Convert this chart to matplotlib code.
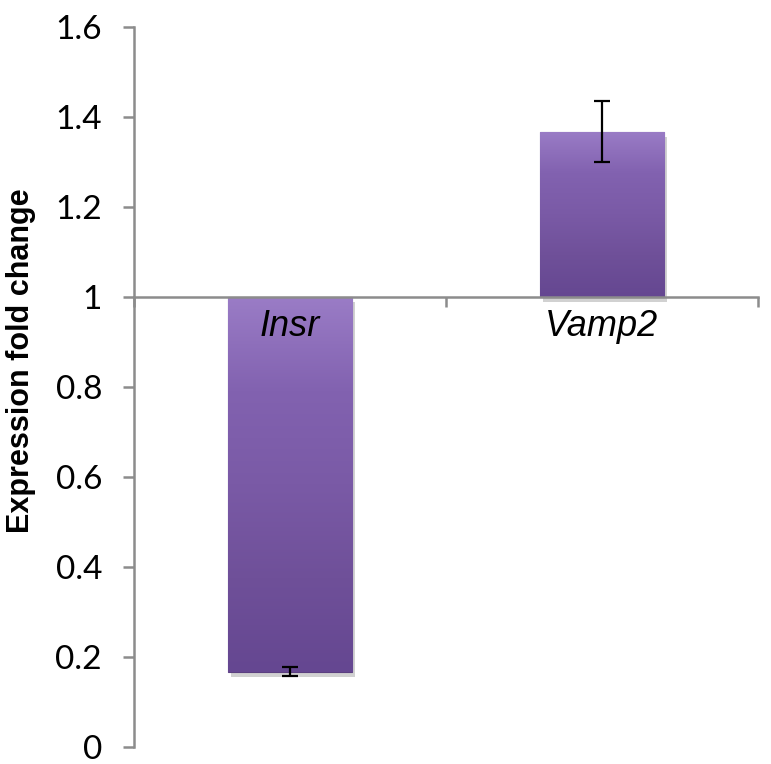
import matplotlib.pyplot as plt
import numpy as np
from matplotlib.colors import LinearSegmentedColormap

# Data
genes = ['Insr', 'Vamp2']
fold_change = [0.167, 1.367]
errors = [0.010, 0.068]
baseline = 1.0

fig = plt.figure(figsize=(7.71, 7.64), dpi=100)
ax = fig.add_axes([0.1738, 0.0225, 0.8092, 0.9422])
ax.set_axisbelow(False)

x = np.arange(len(genes))
width = 0.4
heights = [v - baseline for v in fold_change]

bars = ax.bar(x, heights, width, bottom=baseline, color='#7a5aa5', zorder=2)

# gradient fill + soft shadow to mimic the bevelled look
cmap = LinearSegmentedColormap.from_list('purp', ['#9a7cc6', '#8262b0', '#7a5aa6', '#6f5099', '#654791'])
grad = np.linspace(0, 1, 256).reshape(-1, 1)
for b in bars:
    x0, y0 = b.get_x(), b.get_y()
    w, h = b.get_width(), b.get_height()
    ylo, yhi = min(y0, y0 + h), max(y0, y0 + h)
    shadow = plt.Rectangle((x0 + 0.01, ylo - 0.012), w, yhi - ylo, color='#000000',
                           alpha=0.18, zorder=1, lw=0)
    ax.add_patch(shadow)
    im = ax.imshow(grad, cmap=cmap, aspect='auto', extent=(x0, x0 + w, ylo, yhi),
                   origin='upper', zorder=2.2)
    im.set_clip_path(b)
    b.set_edgecolor('#5b3f80')
    b.set_linewidth(0.8)

ax.errorbar(x, fold_change, yerr=errors, fmt='none', ecolor='black',
            elinewidth=1.6, capsize=6, capthick=1.6, zorder=4)

ax.set_xlim(-0.5, 1.5)
ax.set_ylim(0, 1.6)
ax.set_yticks(np.arange(0, 1.61, 0.2))
ax.set_yticklabels(['0', '0.2', '0.4', '0.6', '0.8', '1', '1.2', '1.4', '1.6'],
                   fontsize=24, fontname='Lato')

ax.spines['top'].set_visible(False)
ax.spines['right'].set_visible(False)
ax.spines['bottom'].set_position(('data', baseline))
for s in ['left', 'bottom']:
    ax.spines[s].set_color('#8c8c8c')
    ax.spines[s].set_linewidth(1.8)

ax.set_xticks(x)
ax.set_xticklabels(genes, fontsize=26, style='italic', fontname='Liberation Sans')
ax.set_xticks([-0.5, 0.5, 1.5], minor=True)
ax.tick_params(axis='x', which='major', length=0, pad=9)
ax.tick_params(axis='x', which='minor', length=7, width=1.8, color='#8c8c8c')
ax.tick_params(axis='y', length=8, width=1.8, color='#8c8c8c', pad=15)

ax.set_ylabel('Expression fold change', fontsize=22, fontweight='bold',
              fontname='Liberation Sans')
ax.yaxis.set_label_coords(-0.157, 0.537)

fig.savefig('out.png', dpi=100)
